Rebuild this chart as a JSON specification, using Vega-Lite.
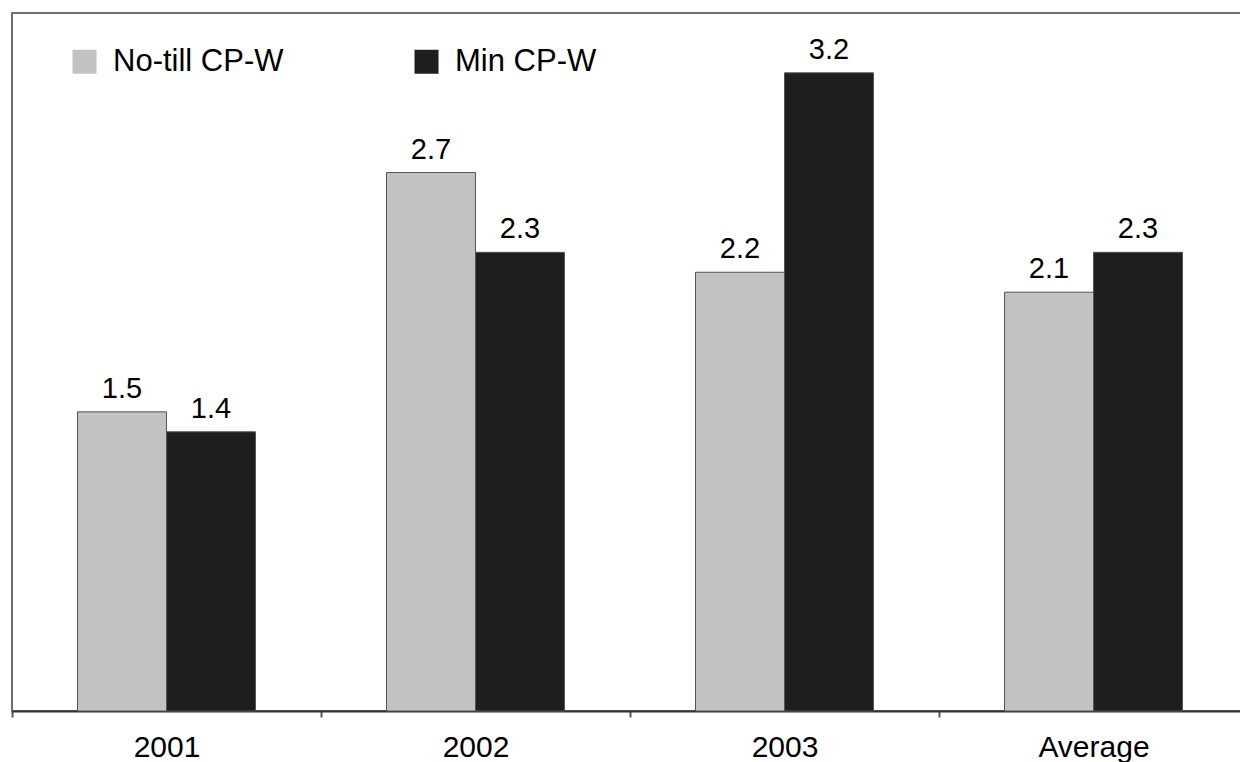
{
  "$schema": "https://vega.github.io/schema/vega-lite/v6.json",
  "width": 1236,
  "height": 698,
  "autosize": {"type": "none"},
  "padding": {"left": 12, "top": 13, "right": 0, "bottom": 51},
  "background": "white",
  "config": {
    "font": "Liberation Sans",
    "view": {"stroke": "#6f6f6f", "strokeWidth": 2}
  },
  "data": {
    "values": [
      {"period": "2001", "tillage": "No-till CP-W", "value": 1.5},
      {"period": "2001", "tillage": "Min CP-W", "value": 1.4},
      {"period": "2002", "tillage": "No-till CP-W", "value": 2.7},
      {"period": "2002", "tillage": "Min CP-W", "value": 2.3},
      {"period": "2003", "tillage": "No-till CP-W", "value": 2.2},
      {"period": "2003", "tillage": "Min CP-W", "value": 3.2},
      {"period": "Average", "tillage": "No-till CP-W", "value": 2.1},
      {"period": "Average", "tillage": "Min CP-W", "value": 2.3}
    ]
  },
  "encoding": {
    "x": {
      "field": "period",
      "type": "nominal",
      "sort": ["2001", "2002", "2003", "Average"],
      "scale": {"paddingInner": 0.424, "paddingOuter": 0.212},
      "axis": {
        "title": null,
        "labelAngle": 0,
        "labelFontSize": 30,
        "labelColor": "#000",
        "labelPadding": 15,
        "domainColor": "#333",
        "domainWidth": 2,
        "tickColor": "#555",
        "tickWidth": 2,
        "tickSize": 6,
        "tickOffset": -154.5,
        "labelOffset": 154.5
      }
    },
    "xOffset": {"field": "tillage", "type": "nominal", "sort": ["No-till CP-W", "Min CP-W"]},
    "y": {"field": "value", "type": "quantitative", "scale": {"domain": [0, 3.5]}, "axis": null}
  },
  "layer": [
    {
      "mark": {"type": "bar", "stroke": "#555", "strokeWidth": 1},
      "encoding": {
        "color": {
          "field": "tillage",
          "type": "nominal",
          "sort": ["No-till CP-W", "Min CP-W"],
          "scale": {"range": ["#c2c2c2", "#1e1e1e"]},
          "legend": {
            "title": null,
            "orient": "none",
            "legendX": 57,
            "legendY": 33,
            "direction": "horizontal",
            "symbolType": "square",
            "symbolSize": 576,
            "symbolStrokeWidth": 0,
            "labelFontSize": 31,
            "labelColor": "#000",
            "labelOffset": 13,
            "labelLimit": 400,
            "columnPadding": 127,
            "padding": 0
          }
        }
      }
    },
    {
      "mark": {"type": "text", "baseline": "bottom", "dy": -8, "fontSize": 29, "color": "#000"},
      "encoding": {
        "text": {"field": "value", "type": "quantitative", "format": ".1f"}
      }
    }
  ]
}
